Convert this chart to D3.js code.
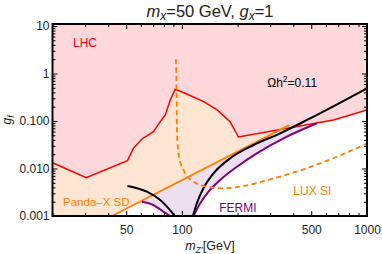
<!DOCTYPE html>
<html>
<head>
<meta charset="utf-8">
<script src="https://cdn.jsdelivr.net/npm/d3@7"></script>
<style>
  body { margin: 0; background: #fff; }
  svg { display: block; font-family: "Liberation Sans", Arial, sans-serif; }
</style>
</head>
<body>
<svg width="382" height="254"></svg>
<script>
// values: mZ' in GeV, g_f
let lhcM = [20, 30.4, 50.8, 54.7, 60.8, 70.2, 76.4, 81.3, 86.5, 92, 104, 131, 155, 182, 202, 659, 1000];
let lhcG = [0.0132, 0.0064, 0.0146, 0.0266, 0.0418, 0.0596, 0.0967, 0.134, 0.277, 0.464, 0.383, 0.255, 0.171, 0.0966, 0.046, 0.105, 0.171];

let pandaM = [41.9, 380];
let pandaG = [0.001, 0.082];

let fermiLeftM = [60.8, 70.2, 79.5, 86.5];
let fermiLeftG = [0.002, 0.0017, 0.00123, 0.001];
let fermiRightM = [115.5, 125.6, 139.3, 161, 198.3, 254, 354, 537];
let fermiRightG = [0.001, 0.00185, 0.00325, 0.00573, 0.0109, 0.0209, 0.0432, 0.0895];

let relicLeftM = [50.8, 64.7, 76.4, 84.7, 89, 91.5];
let relicLeftG = [0.0043, 0.00325, 0.00217, 0.00145, 0.00115, 0.001];
let relicRightM = [114.7, 120.4, 130.8, 148.3, 182.4, 243.8, 339.6, 473.8, 1000];
let relicRightG = [0.001, 0.00185, 0.00383, 0.00792, 0.0164, 0.0312, 0.0551, 0.105, 0.488];

let luxM = [92.8, 93.7, 94, 95.9, 102, 115.5, 138.7, 165, 215, 300, 454, 688, 1000];
let luxG = [2.0, 0.277, 0.0646, 0.0209, 0.0093, 0.00527, 0.00408, 0.00383, 0.00428, 0.00593, 0.0096, 0.0177, 0.0336];

let xMajor = [50, 100, 500, 1000];
let xMajorLabels = ["50", "100", "500", "1000"];
let yMajor = [0.001, 0.01, 0.1, 1, 10];
let yMajorLabels = ["0.001", "0.010", "0.100", "1", "10"];

let plotLeft = 52.5, plotRight = 367, plotTop = 24, plotBottom = 216;
let mMin = 20, mMax = 1000, gMin = 0.001, gMax = 11;

let svg = d3.select("svg");

let x = d3.scaleLog().domain([mMin, mMax]).range([plotLeft, plotRight]);
let y = d3.scaleLog().domain([gMin, gMax]).range([plotBottom, plotTop]);

let pts = (ms, gs) => ms.map((m, i) => [x(m), y(gs[i])]);
let straight = d3.line();
let smooth = d3.line().curve(d3.curveMonotoneX);

svg.append("clipPath").attr("id", "plot")
  .append("rect")
  .attr("x", plotLeft).attr("y", plotTop)
  .attr("width", plotRight - plotLeft).attr("height", plotBottom - plotTop);

let area = svg.append("g").attr("clip-path", "url(#plot)");

// FERMI region (above the purple curves)
let fermiPath = smooth(pts(fermiLeftM, fermiLeftG))
  + "L" + smooth(pts(fermiRightM, fermiRightG)).slice(1)
  + `L${x(fermiRightM[fermiRightM.length - 1])},${y(gMax)}L${x(fermiLeftM[0])},${y(gMax)}Z`;
area.append("path").attr("d", fermiPath).attr("fill", "#eddff0");

// Panda-X SD region (above the orange line)
let pandaPoly = [[x(mMin), y(gMin)], ...pts(pandaM, pandaG),
  [x(pandaM[pandaM.length - 1]), y(gMax)], [x(mMin), y(gMax)]];
area.append("path").attr("d", straight(pandaPoly) + "Z").attr("fill", "#ffe6d2");

// LHC region (above the red curve)
let lhcPoly = [...pts(lhcM, lhcG), [x(mMax), y(gMax)], [x(mMin), y(gMax)]];
area.append("path").attr("d", straight(lhcPoly) + "Z").attr("fill", "#ffd8dc");

// curves
area.append("path").attr("d", straight(pts(lhcM, lhcG)))
  .attr("fill", "none").attr("stroke", "#ff0000").attr("stroke-width", 1.5);
area.append("path").attr("d", straight(pts(pandaM, pandaG)))
  .attr("fill", "none").attr("stroke", "#ff8000").attr("stroke-width", 1.8);
area.append("path").attr("d", smooth(pts(fermiLeftM, fermiLeftG)))
  .attr("fill", "none").attr("stroke", "#800080").attr("stroke-width", 2);
area.append("path").attr("d", smooth(pts(fermiRightM, fermiRightG)))
  .attr("fill", "none").attr("stroke", "#800080").attr("stroke-width", 2);
area.append("path").attr("d", smooth(pts(relicLeftM, relicLeftG)))
  .attr("fill", "none").attr("stroke", "#000").attr("stroke-width", 2);
area.append("path").attr("d", smooth(pts(relicRightM, relicRightG)))
  .attr("fill", "none").attr("stroke", "#000").attr("stroke-width", 2);
area.append("path").attr("d", smooth(pts(luxM, luxG)))
  .attr("fill", "none").attr("stroke", "#ff8000").attr("stroke-width", 1.8)
  .attr("stroke-dasharray", "5,3.5");

// axes (ticks inside the frame)
let xMinor = x.ticks().filter(v => !xMajor.includes(v));
let yMinor = y.ticks().filter(v => !yMajor.some(t => Math.abs(t - v) / t < 1e-6));

let styleAxis = g => {
  g.select(".domain").remove();
  g.attr("font-family", null).attr("font-size", 12);
  g.selectAll("text").attr("fill", "#222");
};

svg.append("g").attr("transform", `translate(0,${plotBottom})`)
  .call(d3.axisBottom(x).tickValues(xMajor).tickFormat((d, i) => xMajorLabels[i])
    .tickSizeInner(-5).tickSizeOuter(0).tickPadding(9))
  .call(styleAxis);
svg.append("g").attr("transform", `translate(0,${plotBottom})`)
  .call(d3.axisBottom(x).tickValues(xMinor).tickFormat("").tickSizeInner(-3).tickSizeOuter(0))
  .call(styleAxis);
svg.append("g").attr("transform", `translate(0,${plotTop})`)
  .call(d3.axisTop(x).tickValues(xMajor).tickFormat("").tickSizeInner(-5).tickSizeOuter(0))
  .call(styleAxis);
svg.append("g").attr("transform", `translate(0,${plotTop})`)
  .call(d3.axisTop(x).tickValues(xMinor).tickFormat("").tickSizeInner(-3).tickSizeOuter(0))
  .call(styleAxis);

svg.append("g").attr("transform", `translate(${plotLeft},0)`)
  .call(d3.axisLeft(y).tickValues(yMajor).tickFormat((d, i) => yMajorLabels[i])
    .tickSizeInner(-5).tickSizeOuter(0).tickPadding(3))
  .call(styleAxis);
svg.append("g").attr("transform", `translate(${plotLeft},0)`)
  .call(d3.axisLeft(y).tickValues(yMinor).tickFormat("").tickSizeInner(-3).tickSizeOuter(0))
  .call(styleAxis);
svg.append("g").attr("transform", `translate(${plotRight},0)`)
  .call(d3.axisRight(y).tickValues(yMajor).tickFormat("").tickSizeInner(-5).tickSizeOuter(0))
  .call(styleAxis);
svg.append("g").attr("transform", `translate(${plotRight},0)`)
  .call(d3.axisRight(y).tickValues(yMinor).tickFormat("").tickSizeInner(-3).tickSizeOuter(0))
  .call(styleAxis);

svg.append("rect")
  .attr("x", plotLeft).attr("y", plotTop)
  .attr("width", plotRight - plotLeft).attr("height", plotBottom - plotTop)
  .attr("fill", "none").attr("stroke", "#000").attr("stroke-width", 2);

// region labels
let label = (m, g, color, size) => svg.append("text")
  .attr("x", x(m)).attr("y", y(g))
  .attr("fill", color).attr("font-size", size);

label(25.8, 3.6, "#ff0000", 12).text("LHC");
label(22.8, 0.00163, "#ff8000", 11.5).text("Panda–X SD");
label(159, 0.00119, "#800080", 12).text("FERMI");
label(400, 0.00277, "#ff8000", 12).text("LUX SI");
let omega = label(289, 0.53, "#000", 12);
omega.append("tspan").text("Ωh");
omega.append("tspan").attr("font-size", 8.5).attr("dy", -5).text("2");
omega.append("tspan").attr("dy", 5).text("=0.11");

// title
let title = svg.append("text")
  .attr("x", 210).attr("y", 17)
  .attr("text-anchor", "middle").attr("font-size", 16.5).attr("fill", "#222");
title.append("tspan").attr("font-style", "italic").text("m");
title.append("tspan").attr("font-style", "italic").attr("font-size", 12).attr("dy", 3).text("x");
title.append("tspan").attr("dy", -3).text("=50 GeV, ");
title.append("tspan").attr("font-style", "italic").text("g");
title.append("tspan").attr("font-style", "italic").attr("font-size", 12).attr("dy", 3).text("x");
title.append("tspan").attr("dy", -3).text("=1");

// axis titles
let xTitle = svg.append("text")
  .attr("x", 210).attr("y", 250)
  .attr("text-anchor", "middle").attr("font-size", 12.5).attr("fill", "#222");
xTitle.append("tspan").attr("font-style", "italic").text("m");
xTitle.append("tspan").attr("font-style", "italic").attr("font-size", 9).attr("dy", 2.5).text("Z'");
xTitle.append("tspan").attr("dy", -2.5).text("[GeV]");

let yTitle = svg.append("text")
  .attr("transform", "translate(11,120) rotate(-90)")
  .attr("text-anchor", "middle").attr("font-size", 12.5).attr("fill", "#222");
yTitle.append("tspan").attr("font-style", "italic").text("g");
yTitle.append("tspan").attr("font-style", "italic").attr("font-size", 9).attr("dy", 2.5).text("f");
</script>
</body>
</html>
